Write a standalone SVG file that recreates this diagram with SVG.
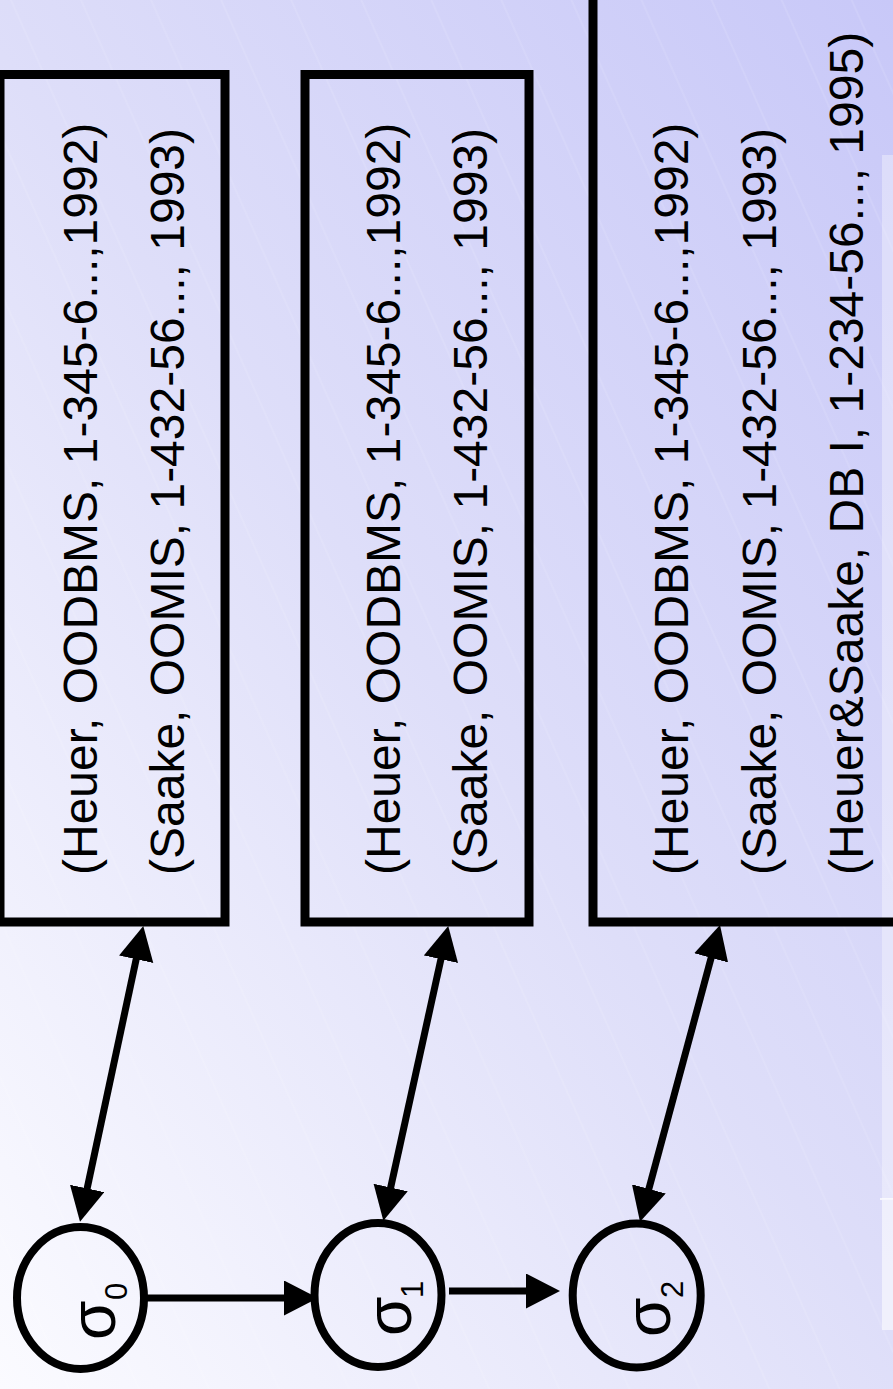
<svg xmlns="http://www.w3.org/2000/svg" width="893" height="1389" viewBox="0 0 893 1389">
<defs>
<linearGradient id="bg" gradientUnits="userSpaceOnUse" x1="893" y1="0" x2="-360" y2="871">
<stop offset="0" stop-color="#c8c8f8"/>
<stop offset="0.5" stop-color="#dedef9"/>
<stop offset="1" stop-color="#fbfbff"/>
</linearGradient>
<pattern id="tex" patternUnits="userSpaceOnUse" width="64" height="64" patternTransform="rotate(-24)">
<line x1="10" y1="0" x2="10" y2="64" stroke="#ffffff" stroke-width="1" stroke-opacity="0.18"/>
</pattern>
<marker id="ah" markerUnits="userSpaceOnUse" markerWidth="40" markerHeight="40" refX="24" refY="17.5" orient="auto-start-reverse" viewBox="0 0 40 40">
<path d="M0,0 L34,17.5 L0,35 Z" fill="#000"/>
</marker>
</defs>
<style>
.box{fill:none;stroke:#000;stroke-width:9}
.st{fill:none;stroke:#000;stroke-width:8}
.t{font-family:"Liberation Sans",Arial,sans-serif;font-size:48px;fill:#000}
.sg{font-family:"Liberation Sans","DejaVu Sans",sans-serif;font-size:64px;fill:#000}
.sb{font-family:"Liberation Sans",Arial,sans-serif;font-size:31px;fill:#000}
.c{fill:none;stroke:#000;stroke-width:7}
</style>
<rect x="0" y="0" width="893" height="1389" fill="url(#bg)"/>
<rect x="0" y="0" width="893" height="1389" fill="url(#tex)"/>
<rect x="882" y="155" width="11" height="1044" fill="#ffffff" fill-opacity="0.35"/>
<rect x="882" y="1200" width="11" height="130" fill="#ffffff" fill-opacity="0.55"/>
<line x1="880" y1="1199" x2="893" y2="1199" stroke="#ffffff" stroke-width="1.5"/>

<g id="box1">
<rect class="box" x="0" y="74.5" width="225" height="847.5"/>
<g transform="translate(97,875) rotate(-90)"><text class="t" x="0" y="0">(Heuer, OODBMS, 1-345-6...,1992)</text></g>
<g transform="translate(184,875) rotate(-90)"><text class="t" x="0" y="0">(Saake, OOMIS, 1-432-56..., 1993)</text></g>
</g>
<g id="box2">
<rect class="box" x="305" y="74.5" width="224" height="847.5"/>
<g transform="translate(400,875) rotate(-90)"><text class="t" x="0" y="0">(Heuer, OODBMS, 1-345-6...,1992)</text></g>
<g transform="translate(487,875) rotate(-90)"><text class="t" x="0" y="0">(Saake, OOMIS, 1-432-56..., 1993)</text></g>
</g>
<g id="box3">
<rect class="box" x="593" y="-20" width="320" height="942"/>
<g transform="translate(688,875) rotate(-90)"><text class="t" x="0" y="0">(Heuer, OODBMS, 1-345-6...,1992)</text></g>
<g transform="translate(776,875) rotate(-90)"><text class="t" x="0" y="0">(Saake, OOMIS, 1-432-56..., 1993)</text></g>
<g transform="translate(863,875) rotate(-90)"><text class="t" x="0" y="0">(Heuer&amp;Saake, DB I, 1-234-56..., 1995)</text></g>
</g>

<g id="state0">
<ellipse class="st" cx="80.5" cy="1298" rx="63.5" ry="71"/>
<g transform="translate(115,1340) rotate(-90)"><text class="sg" x="0" y="0">σ</text></g>
<g transform="translate(127,1300) rotate(-90)"><text class="sb" x="0" y="0">0</text></g>
</g>
<g id="state1">
<ellipse class="st" cx="378" cy="1295" rx="63.5" ry="72"/>
<g transform="translate(411,1336) rotate(-90)"><text class="sg" x="0" y="0">σ</text></g>
<g transform="translate(423,1298) rotate(-90)"><text class="sb" x="0" y="0">1</text></g>
</g>
<g id="state2">
<ellipse class="st" cx="636.7" cy="1295.5" rx="64" ry="72"/>
<g transform="translate(670,1337) rotate(-90)"><text class="sg" x="0" y="0">σ</text></g>
<g transform="translate(683,1298) rotate(-90)"><text class="sb" x="0" y="0">2</text></g>
</g>

<g id="connectors">
<line class="c" x1="146" y1="1298" x2="308" y2="1298" marker-end="url(#ah)"/>
<line class="c" x1="449" y1="1291" x2="550" y2="1291" marker-end="url(#ah)"/>
<line class="c" x1="82.1" y1="1211.9" x2="141.2" y2="935.8" marker-start="url(#ah)" marker-end="url(#ah)"/>
<line class="c" x1="385.5" y1="1210.9" x2="446.1" y2="935.8" marker-start="url(#ah)" marker-end="url(#ah)"/>
<line class="c" x1="642.6" y1="1212.1" x2="717.4" y2="934.7" marker-start="url(#ah)" marker-end="url(#ah)"/>
</g>
</svg>
